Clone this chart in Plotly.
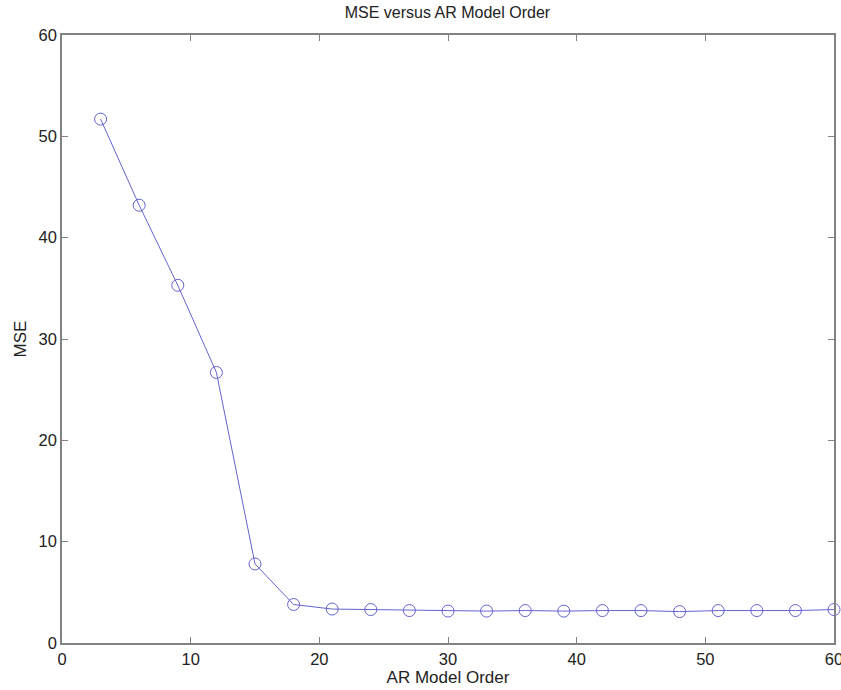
import plotly.graph_objects as go

orders = [3, 6, 9, 12, 15, 18, 21, 24, 27, 30, 33, 36, 39, 42, 45, 48, 51, 54, 57, 60]
mse = [51.7, 43.2, 35.3, 26.7, 7.8, 3.8, 3.35, 3.3, 3.2, 3.15, 3.15, 3.2, 3.15, 3.2, 3.2, 3.1, 3.2, 3.2, 3.2, 3.3]
x_ticks = [0, 10, 20, 30, 40, 50, 60]
y_ticks = [0, 10, 20, 30, 40, 50, 60]

line_color = "rgb(100,100,205)"
axis_color = "rgb(130,130,130)"
font_fam = "Liberation Sans, Arial, sans-serif"
txt_color = "#222"

fig = go.Figure()
fig.add_trace(go.Scatter(
    x=orders, y=mse, mode="lines+markers",
    line=dict(color=line_color, width=1),
    marker=dict(symbol="circle-open", size=12, color=line_color, line=dict(width=1)),
    cliponaxis=False,
))

axis_common = dict(
    showgrid=False, zeroline=False, showline=True, mirror="ticks",
    linecolor=axis_color, linewidth=1.5, automargin=False,
    ticks="inside", ticklen=6, tickcolor=axis_color, tickwidth=1,
    ticklabeloverflow="allow",
    tickfont=dict(family=font_fam, size=16.5, color=txt_color),
)

fig.update_layout(
    width=841, height=690,
    margin=dict(l=62, r=7, t=35, b=47),
    paper_bgcolor="white", plot_bgcolor="white",
    showlegend=False,
    title=dict(text="MSE versus AR Model Order", x=0.532, xanchor="center", y=0.99, yanchor="top",
               font=dict(family=font_fam, size=16, color=txt_color)),
    xaxis=dict(range=[0, 60], tickvals=x_ticks, title=dict(text="AR Model Order", standoff=0,
               font=dict(family=font_fam, size=17, color=txt_color)), **axis_common),
    yaxis=dict(range=[0, 60], tickvals=y_ticks, title=dict(text="MSE", standoff=8,
               font=dict(family=font_fam, size=17, color=txt_color)), **axis_common),
)

fig.write_html("out.html")
